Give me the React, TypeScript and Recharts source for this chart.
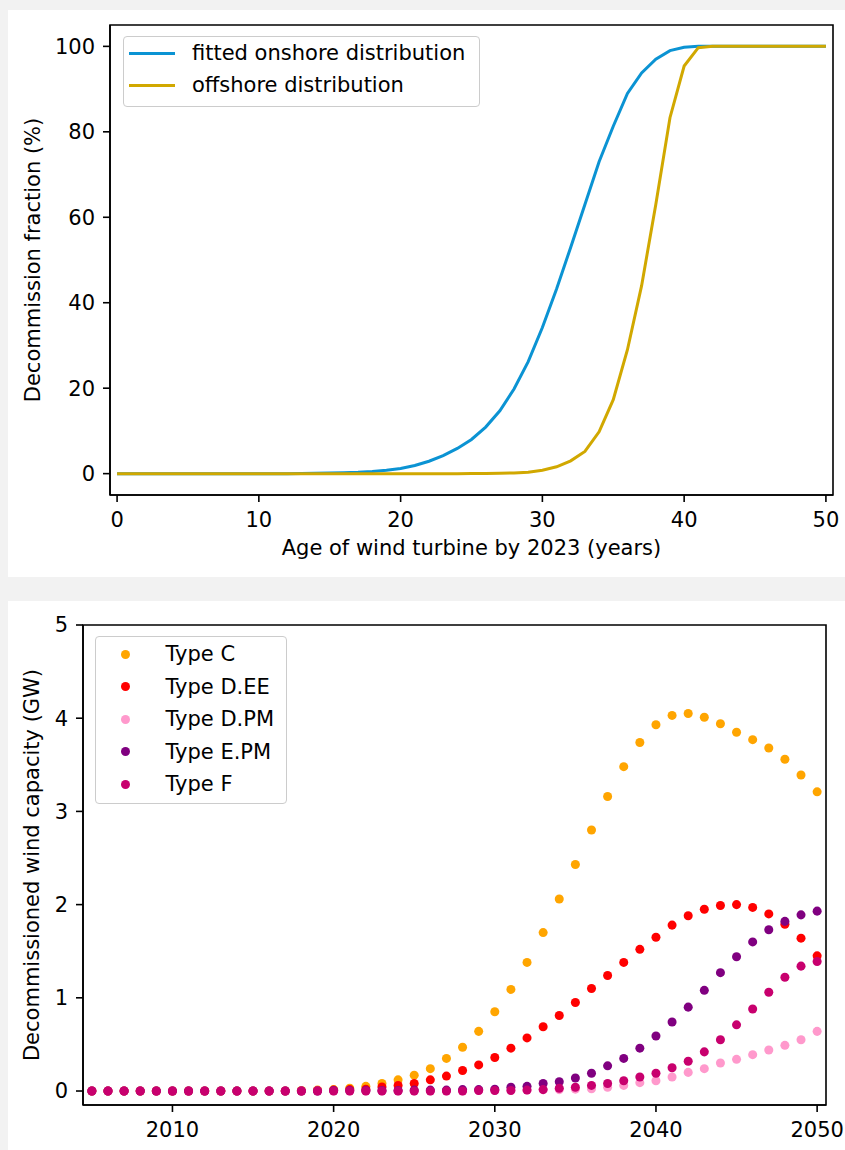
import React from 'react'
import { LineChart, Line, ScatterChart, Scatter, XAxis, YAxis, Legend, ReferenceArea } from 'recharts'

const FONT = '"DejaVu Sans", Verdana, sans-serif'

// top panel: decommission fraction vs age
const ages = [
  0, 1, 2, 3, 4, 5, 6, 7, 8, 9,
  10, 11, 12, 13, 14, 15, 16, 17, 18, 19,
  20, 21, 22, 23, 24, 25, 26, 27, 28, 29,
  30, 31, 32, 33, 34, 35, 36, 37, 38, 39,
  40, 41, 42, 43, 44, 45, 46, 47, 48, 49,
  50,
]
const onshoreFraction = [
  0, 0, 0, 0, 0, 0, 0, 0, 0, 0,
  0, 0, 0, 0.05, 0.08, 0.12, 0.2, 0.3, 0.5, 0.8,
  1.2, 1.9, 2.9, 4.2, 5.9, 8.0, 10.9, 14.7, 19.8, 26.2,
  34.2, 43.2, 53.0, 63.0, 73.0, 81.3, 89.0, 93.8, 97.0, 99.0,
  99.8, 100, 100, 100, 100, 100, 100, 100, 100, 100,
  100,
]
const offshoreFraction = [
  0, 0, 0, 0, 0, 0, 0, 0, 0, 0,
  0, 0, 0, 0, 0, 0, 0, 0, 0, 0,
  0, 0, 0, 0, 0, 0.02, 0.04, 0.08, 0.15, 0.35,
  0.8, 1.6, 3.0, 5.2, 9.8, 17.3, 29.0, 44.0, 63.0, 83.3,
  95.4, 99.7, 100, 100, 100, 100, 100, 100, 100, 100,
  100,
]
const distributionNames = ['fitted onshore distribution', 'offshore distribution']
const distributionKeys = ['onshore', 'offshore']
const distributionColors = ['#0b93d3', '#d1a800']
const ageTicks = [0, 10, 20, 30, 40, 50]
const fractionTicks = [0, 20, 40, 60, 80, 100]

// bottom panel: decommissioned capacity per year
const years = [
  2005, 2006, 2007, 2008, 2009, 2010, 2011, 2012, 2013, 2014,
  2015, 2016, 2017, 2018, 2019, 2020, 2021, 2022, 2023, 2024,
  2025, 2026, 2027, 2028, 2029, 2030, 2031, 2032, 2033, 2034,
  2035, 2036, 2037, 2038, 2039, 2040, 2041, 2042, 2043, 2044,
  2045, 2046, 2047, 2048, 2049, 2050,
]
const typeC = [
  0, 0, 0, 0, 0, 0, 0, 0, 0, 0,
  0, 0, 0, 0.005, 0.01, 0.015, 0.03, 0.05, 0.08, 0.12,
  0.17, 0.24, 0.35, 0.47, 0.64, 0.85, 1.09, 1.38, 1.70, 2.06,
  2.43, 2.80, 3.16, 3.48, 3.74, 3.93, 4.03, 4.05, 4.01, 3.94,
  3.85, 3.77, 3.68, 3.56, 3.39, 3.21,
]
const typeDEE = [
  0, 0, 0, 0, 0, 0, 0, 0, 0, 0,
  0, 0, 0, 0, 0.005, 0.01, 0.015, 0.02, 0.044, 0.06,
  0.08, 0.12, 0.16, 0.22, 0.28, 0.36, 0.46, 0.57, 0.69, 0.81,
  0.95, 1.10, 1.24, 1.38, 1.52, 1.65, 1.78, 1.88, 1.95, 1.99,
  2.00, 1.97, 1.90, 1.79, 1.64, 1.45,
]
const typeDPM = [
  0, 0, 0, 0, 0, 0, 0, 0, 0, 0,
  0, 0, 0, 0, 0, 0, 0, 0, 0, 0,
  0, 0, 0, 0, 0.005, 0.005, 0.01, 0.01, 0.015, 0.015,
  0.02, 0.025, 0.04, 0.06, 0.09, 0.11, 0.15, 0.20, 0.24, 0.30,
  0.34, 0.39, 0.44, 0.49, 0.55, 0.64,
]
const typeEPM = [
  0, 0, 0, 0, 0, 0, 0, 0, 0, 0,
  0, 0, 0, 0, 0, 0.005, 0.005, 0.005, 0.005, 0.005,
  0.01, 0.01, 0.01, 0.015, 0.015, 0.02, 0.04, 0.05, 0.08, 0.10,
  0.14, 0.19, 0.27, 0.35, 0.46, 0.59, 0.74, 0.90, 1.08, 1.27,
  1.44, 1.60, 1.73, 1.82, 1.89, 1.93,
]
const typeF = [
  0, 0, 0, 0, 0, 0, 0, 0, 0, 0,
  0, 0, 0, 0, 0, 0, 0, 0, 0, 0,
  0, 0, 0, 0, 0.005, 0.005, 0.005, 0.01, 0.015, 0.03,
  0.04, 0.06, 0.08, 0.11, 0.15, 0.19, 0.25, 0.32, 0.42, 0.55,
  0.71, 0.88, 1.06, 1.22, 1.34, 1.39,
]
const turbineTypes = ['Type C', 'Type D.EE', 'Type D.PM', 'Type E.PM', 'Type F']
const turbineValues = [typeC, typeDEE, typeDPM, typeEPM, typeF]
const turbineColors = ['#ffa500', '#ff0000', '#ff99cc', '#800080', '#c8006e']
const yearTicks = [2010, 2020, 2030, 2040, 2050]
const capacityTicks = [0, 1, 2, 3, 4, 5]

const tickStyle = { fill: '#000', fontSize: 21, fontFamily: FONT }
const lineStyle = { stroke: '#000', strokeWidth: 1.6 }
const labelStyle = { fill: '#000', fontSize: 21, fontFamily: FONT }

const curveData = ages.map((age, i) => ({
  age,
  onshore: onshoreFraction[i],
  offshore: offshoreFraction[i],
}))

const turbineSeries = turbineTypes.map((name, s) => ({
  name,
  color: turbineColors[s],
  data: years.map((year, i) => ({ year, value: turbineValues[s][i] })),
}))

function CurveLegend() {
  return (
    <div
      style={{
        width: 357,
        height: 71,
        boxSizing: 'border-box',
        background: 'rgba(255,255,255,0.8)',
        border: '1px solid #cccccc',
        borderRadius: 4,
        paddingTop: 0,
        fontFamily: FONT,
        fontSize: 21,
        color: '#000',
      }}
    >
      {distributionNames.map((name, i) => (
        <div key={name} style={{ display: 'flex', alignItems: 'center', height: 32 }}>
          <div style={{ width: 46, height: 3, marginLeft: 5, background: distributionColors[i] }} />
          <span style={{ marginLeft: 17, whiteSpace: 'nowrap' }}>{name}</span>
        </div>
      ))}
    </div>
  )
}

function TypeLegend() {
  return (
    <div
      style={{
        width: 192,
        height: 168,
        boxSizing: 'border-box',
        background: 'rgba(255,255,255,0.8)',
        border: '1px solid #cccccc',
        borderRadius: 4,
        paddingTop: 1,
        fontFamily: FONT,
        fontSize: 21,
        color: '#000',
      }}
    >
      {turbineTypes.map((name, i) => (
        <div key={name} style={{ display: 'flex', alignItems: 'center', height: 32.5 }}>
          <div
            style={{
              width: 9,
              height: 9,
              borderRadius: '50%',
              marginLeft: 24.5,
              background: turbineColors[i],
            }}
          />
          <span style={{ marginLeft: 36, whiteSpace: 'nowrap' }}>{name}</span>
        </div>
      ))}
    </div>
  )
}

export default function App() {
  return (
    <div style={{ position: 'absolute', left: 0, top: 0, width: 845, height: 1150, background: '#f2f2f2' }}>
      <div style={{ position: 'absolute', left: 8, top: 10, width: 837, height: 567, background: '#fff' }}>
        <LineChart
          width={837}
          height={567}
          data={curveData}
          margin={{ top: 15, right: 12, bottom: 0, left: 0 }}
        >
          <XAxis
            dataKey="age"
            type="number"
            domain={[-0.5, 50.5]}
            ticks={ageTicks}
            interval={0}
            allowDataOverflow
            height={82}
            tickSize={7}
            tickMargin={10}
            tick={tickStyle}
            axisLine={lineStyle}
            tickLine={lineStyle}
            label={{
              value: 'Age of wind turbine by 2023 (years)',
              position: 'insideBottom',
              offset: 22,
              style: labelStyle,
            }}
          />
          <YAxis
            type="number"
            domain={[-5, 105]}
            ticks={fractionTicks}
            interval={0}
            allowDataOverflow
            width={102}
            tickSize={7}
            tickMargin={8}
            tick={tickStyle}
            axisLine={lineStyle}
            tickLine={lineStyle}
            label={{
              value: 'Decommission fraction (%)',
              angle: -90,
              position: 'insideLeft',
              offset: 25,
              style: { ...labelStyle, textAnchor: 'middle' },
            }}
          />
          <ReferenceArea x1={-0.5} x2={50.5} y1={-5} y2={105} fill="none" stroke="#000" strokeWidth={1.6} />
          {distributionKeys.map((key, i) => (
            <Line
              key={key}
              dataKey={key}
              name={distributionNames[i]}
              type="linear"
              stroke={distributionColors[i]}
              strokeWidth={3}
              dot={false}
              isAnimationActive={false}
            />
          ))}
          <Legend
            layout="vertical"
            align="center"
            verticalAlign="middle"
            content={() => <CurveLegend />}
            wrapperStyle={{ left: 115, top: 26, width: 357 }}
          />
        </LineChart>
      </div>

      <div style={{ position: 'absolute', left: 8, top: 601, width: 837, height: 549, background: '#fff' }}>
        <ScatterChart width={837} height={549} margin={{ top: 24, right: 19, bottom: 0, left: 0 }}>
          <XAxis
            dataKey="year"
            type="number"
            domain={[2004.45, 2050.55]}
            ticks={yearTicks}
            interval={0}
            allowDataOverflow
            height={45}
            tickSize={7}
            tickMargin={10}
            tick={tickStyle}
            axisLine={lineStyle}
            tickLine={lineStyle}
          />
          <YAxis
            dataKey="value"
            type="number"
            domain={[-0.15, 5]}
            ticks={capacityTicks}
            interval={0}
            allowDataOverflow
            width={75}
            tickSize={7}
            tickMargin={8}
            tick={tickStyle}
            axisLine={lineStyle}
            tickLine={lineStyle}
            label={{
              value: 'Decommissioned wind capacity (GW)',
              angle: -90,
              position: 'insideLeft',
              offset: 24,
              style: { ...labelStyle, textAnchor: 'middle' },
            }}
          />
          <ReferenceArea
            x1={2004.45}
            x2={2050.55}
            y1={-0.15}
            y2={5}
            fill="none"
            stroke="#000"
            strokeWidth={1.6}
          />
          {turbineSeries.map((s) => (
            <Scatter
              key={s.name}
              name={s.name}
              data={s.data}
              fill={s.color}
              shape="circle"
              isAnimationActive={false}
            />
          ))}
          <Legend
            layout="vertical"
            align="center"
            verticalAlign="middle"
            content={() => <TypeLegend />}
            wrapperStyle={{ left: 87, top: 35, width: 192 }}
          />
        </ScatterChart>
      </div>
    </div>
  )
}
